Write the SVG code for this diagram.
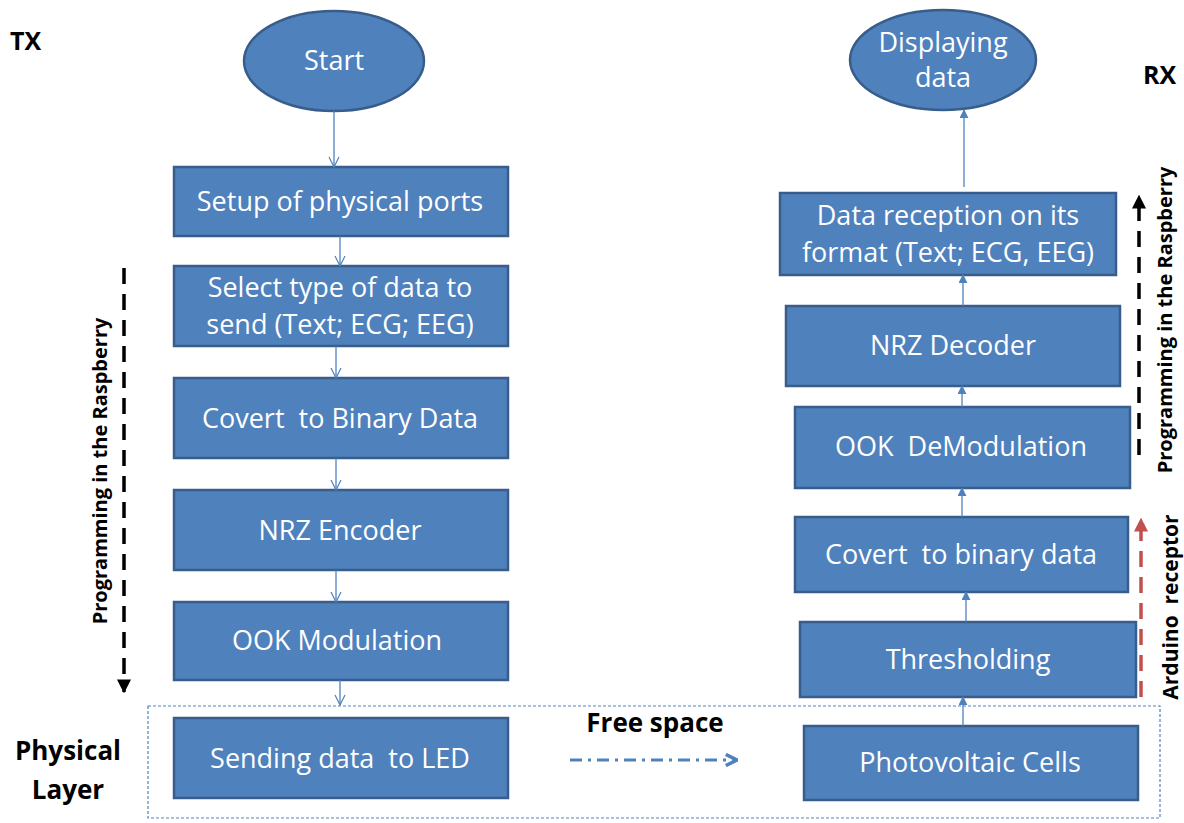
<svg xmlns="http://www.w3.org/2000/svg" width="1184" height="823" viewBox="0 0 1184 823">
<style>
.box{fill:#4F81BD;stroke:#385D8A;stroke-width:2.5}
.t{font-family:"Open Sans","Liberation Sans",sans-serif;font-size:27px;fill:#fff;text-anchor:middle}
.b{font-family:"Open Sans","Liberation Sans",sans-serif;font-weight:bold;fill:#000}
.c{stroke:#4F81BD;stroke-width:1.3;fill:none}
</style>
<defs>
<marker id="ah" viewBox="0 0 12 12" refX="11" refY="6" markerWidth="12" markerHeight="12" markerUnits="userSpaceOnUse" orient="auto"><path d="M1,1 L11,6 L1,11" fill="none" stroke="#4F81BD" stroke-width="1.2"/></marker>
<marker id="ahf" viewBox="0 0 10 10" refX="9" refY="5" markerWidth="9" markerHeight="9" markerUnits="userSpaceOnUse" orient="auto"><path d="M0,0 L10,5 L0,10 Z" fill="#4F81BD"/></marker>
<marker id="bk" viewBox="0 0 10 10" refX="9" refY="5" markerWidth="14" markerHeight="14" markerUnits="userSpaceOnUse" orient="auto"><path d="M0,0 L10,5 L0,10 Z" fill="#000"/></marker>
<marker id="rd" viewBox="0 0 10 10" refX="9" refY="5" markerWidth="14" markerHeight="14" markerUnits="userSpaceOnUse" orient="auto"><path d="M0,0 L10,5 L0,10 Z" fill="#C0504D"/></marker>
<marker id="fs" viewBox="0 0 10 10" refX="9" refY="5" markerWidth="14" markerHeight="14" markerUnits="userSpaceOnUse" orient="auto"><path d="M1,1 L9,5 L1,9" fill="none" stroke="#4F81BD" stroke-width="2.5"/></marker>
</defs>

<rect x="148" y="706" width="1012" height="112" fill="none" stroke="#4F81BD" stroke-width="1.2" stroke-dasharray="3,2"/>

<g id="labels">
<text class="b" x="10" y="50" font-size="25">TX</text>
<text class="b" x="1143" y="84" font-size="25">RX</text>
<text class="b" x="68" y="760" font-size="26" text-anchor="middle">Physical</text>
<text class="b" x="68" y="799" font-size="26" text-anchor="middle">Layer</text>
<text class="b" x="655" y="732" font-size="26" text-anchor="middle">Free space</text>
<text class="b" transform="translate(107,471) rotate(-90)" font-size="20" text-anchor="middle">Programming in the Raspberry</text>
<text class="b" transform="translate(1172,320) rotate(-90)" font-size="20" text-anchor="middle">Programming in the Raspberry</text>
<text class="b" transform="translate(1178,607) rotate(-90)" font-size="21" text-anchor="middle" xml:space="preserve">Arduino  receptor</text>
</g>

<g id="n_start"><ellipse class="box" cx="334" cy="61" rx="90" ry="50"/><text class="t" x="334" y="70">Start</text></g>
<g id="n_setup"><rect class="box" x="174" y="167" width="334" height="69"/><text class="t" x="340" y="211">Setup of physical ports</text></g>
<g id="n_select"><rect class="box" x="174" y="266" width="334" height="80"/><text class="t" x="340" y="297">Select type of data to</text><text class="t" x="340" y="334">send (Text; ECG; EEG)</text></g>
<g id="n_covert"><rect class="box" x="174" y="378" width="334" height="80"/><text class="t" x="340" y="428" xml:space="preserve">Covert  to Binary Data</text></g>
<g id="n_nrzenc"><rect class="box" x="174" y="490" width="334" height="80"/><text class="t" x="340" y="540">NRZ Encoder</text></g>
<g id="n_ook"><rect class="box" x="174" y="602" width="334" height="78"/><text class="t" x="337" y="650">OOK Modulation</text></g>
<g id="n_send"><rect class="box" x="174" y="718" width="334" height="80"/><text class="t" x="340" y="768" xml:space="preserve">Sending data  to LED</text></g>

<g id="n_display"><ellipse class="box" cx="943" cy="60" rx="93" ry="50"/><text class="t" x="943" y="52">Displaying</text><text class="t" x="943" y="87">data</text></g>
<g id="n_datarx"><rect class="box" x="780" y="193" width="336" height="82"/><text class="t" x="948" y="225">Data reception on its</text><text class="t" x="948" y="262">format (Text; ECG, EEG)</text></g>
<g id="n_nrzdec"><rect class="box" x="786" y="306" width="334" height="80"/><text class="t" x="953" y="355">NRZ Decoder</text></g>
<g id="n_ookdem"><rect class="box" x="795" y="407" width="335" height="81"/><text class="t" x="961" y="456" xml:space="preserve">OOK  DeModulation</text></g>
<g id="n_cbin"><rect class="box" x="795" y="517" width="333" height="75"/><text class="t" x="961" y="564" xml:space="preserve">Covert  to binary data</text></g>
<g id="n_thr"><rect class="box" x="800" y="622" width="336" height="75"/><text class="t" x="968" y="669">Thresholding</text></g>
<g id="n_pv"><rect class="box" x="804" y="726" width="334" height="74"/><text class="t" x="970" y="772">Photovoltaic Cells</text></g>

<g id="connectors">
<line class="c" x1="334" y1="111" x2="334" y2="167" marker-end="url(#ah)"/>
<line class="c" x1="340" y1="236" x2="340" y2="266" marker-end="url(#ah)"/>
<line class="c" x1="336" y1="346" x2="336" y2="378" marker-end="url(#ah)"/>
<line class="c" x1="336" y1="458" x2="336" y2="490" marker-end="url(#ah)"/>
<line class="c" x1="336" y1="570" x2="336" y2="602" marker-end="url(#ah)"/>
<line class="c" x1="340" y1="680" x2="340" y2="705" marker-end="url(#ah)"/>
<line class="c" x1="963" y1="726" x2="963" y2="697" marker-end="url(#ahf)"/>
<line class="c" x1="966" y1="622" x2="966" y2="592" marker-end="url(#ahf)"/>
<line class="c" x1="962" y1="517" x2="962" y2="488" marker-end="url(#ahf)"/>
<line class="c" x1="962" y1="407" x2="962" y2="386" marker-end="url(#ahf)"/>
<line class="c" x1="963" y1="306" x2="963" y2="275" marker-end="url(#ahf)"/>
<line class="c" x1="964" y1="187" x2="964" y2="110" marker-end="url(#ahf)"/>
<line x1="570" y1="760" x2="737" y2="760" stroke="#4F81BD" stroke-width="3" stroke-dasharray="12,6,3,6" marker-end="url(#fs)"/>
<line x1="124" y1="268" x2="124" y2="692" stroke="#000" stroke-width="3.5" stroke-dasharray="16,10" marker-end="url(#bk)"/>
<line x1="1139" y1="455" x2="1139" y2="196" stroke="#000" stroke-width="3.5" stroke-dasharray="16,10" marker-end="url(#bk)"/>
<line x1="1141" y1="697" x2="1141" y2="519" stroke="#C0504D" stroke-width="3.5" stroke-dasharray="16,10" marker-end="url(#rd)"/>
</g>
</svg>
